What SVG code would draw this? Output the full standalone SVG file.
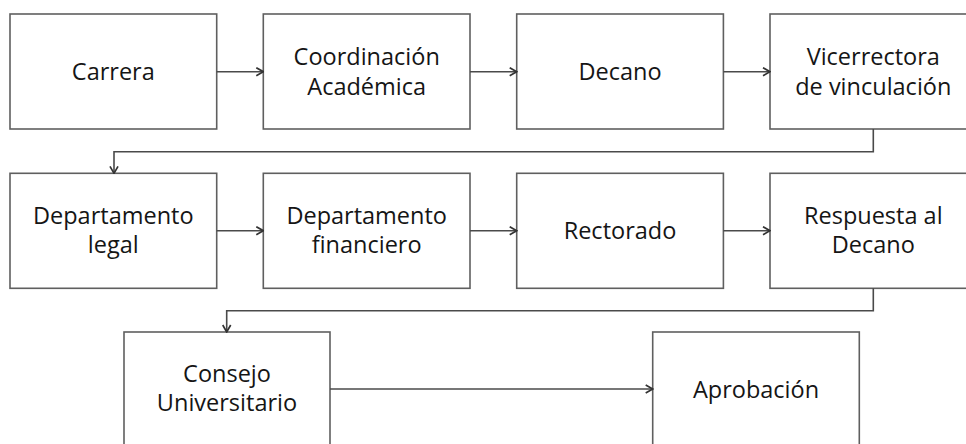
<svg xmlns="http://www.w3.org/2000/svg" width="966" height="444" viewBox="0 0 966 444">
<defs>
<marker id="arr" viewBox="0 0 10 10" refX="9" refY="5" markerWidth="10" markerHeight="10" markerUnits="userSpaceOnUse" orient="auto">
<path d="M2,1 L9,5 L2,9" fill="none" stroke="#333333" stroke-width="1.7"/>
</marker>
<style>
.box{fill:#ffffff;stroke:#5f5f5f;stroke-width:1.6}
.t{font-family:"Open Sans","Noto Sans",sans-serif;font-size:23.5px;fill:#151515;text-anchor:middle}
.c{fill:none;stroke:#4a4a4a;stroke-width:1.6}
</style>
</defs>
<rect width="966" height="444" fill="#ffffff"/>
<g id="carrera"><rect class="box" x="10" y="14" width="206.7" height="115"/><text class="t" x="113.3" y="80">Carrera</text></g>
<g id="coordinacion"><rect class="box" x="263.3" y="14" width="206.7" height="115"/><text class="t" x="366.7" y="64.5">Coordinación</text><text class="t" x="366.7" y="94.5">Académica</text></g>
<g id="decano"><rect class="box" x="516.7" y="14" width="206.7" height="115"/><text class="t" x="620" y="80">Decano</text></g>
<g id="vicerrectora"><rect class="box" x="770" y="14" width="206.7" height="115"/><text class="t" x="873.3" y="64.5">Vicerrectora</text><text class="t" x="873.3" y="94.5">de vinculación</text></g>
<g id="legal"><rect class="box" x="10" y="173.3" width="206.7" height="115"/><text class="t" x="113.3" y="224">Departamento</text><text class="t" x="113.3" y="253">legal</text></g>
<g id="financiero"><rect class="box" x="263.3" y="173.3" width="206.7" height="115"/><text class="t" x="366.7" y="224">Departamento</text><text class="t" x="366.7" y="253">financiero</text></g>
<g id="rectorado"><rect class="box" x="516.7" y="173.3" width="206.7" height="115"/><text class="t" x="620" y="238.5">Rectorado</text></g>
<g id="respuesta"><rect class="box" x="770" y="173.3" width="206.7" height="115"/><text class="t" x="873.3" y="224">Respuesta al</text><text class="t" x="873.3" y="253">Decano</text></g>
<g id="consejo"><rect class="box" x="124" y="332" width="206" height="130"/><text class="t" x="227" y="381.5">Consejo</text><text class="t" x="227" y="411">Universitario</text></g>
<g id="aprobacion"><rect class="box" x="652.7" y="332" width="206.6" height="130"/><text class="t" x="756" y="397.5">Aprobación</text></g>
<g id="connectors">
<line class="c" x1="216.7" y1="71.7" x2="263.3" y2="71.7" marker-end="url(#arr)"/>
<line class="c" x1="470" y1="71.7" x2="516.7" y2="71.7" marker-end="url(#arr)"/>
<line class="c" x1="723.4" y1="71.7" x2="770" y2="71.7" marker-end="url(#arr)"/>
<polyline class="c" points="873.3,129 873.3,151.7 114,151.7 114,173.3" marker-end="url(#arr)"/>
<line class="c" x1="216.7" y1="230.7" x2="263.3" y2="230.7" marker-end="url(#arr)"/>
<line class="c" x1="470" y1="230.7" x2="516.7" y2="230.7" marker-end="url(#arr)"/>
<line class="c" x1="723.4" y1="230.7" x2="770" y2="230.7" marker-end="url(#arr)"/>
<polyline class="c" points="873.3,288.3 873.3,310.7 226.7,310.7 226.7,332" marker-end="url(#arr)"/>
<line class="c" x1="330" y1="389" x2="652.7" y2="389" marker-end="url(#arr)"/>
</g>
</svg>
